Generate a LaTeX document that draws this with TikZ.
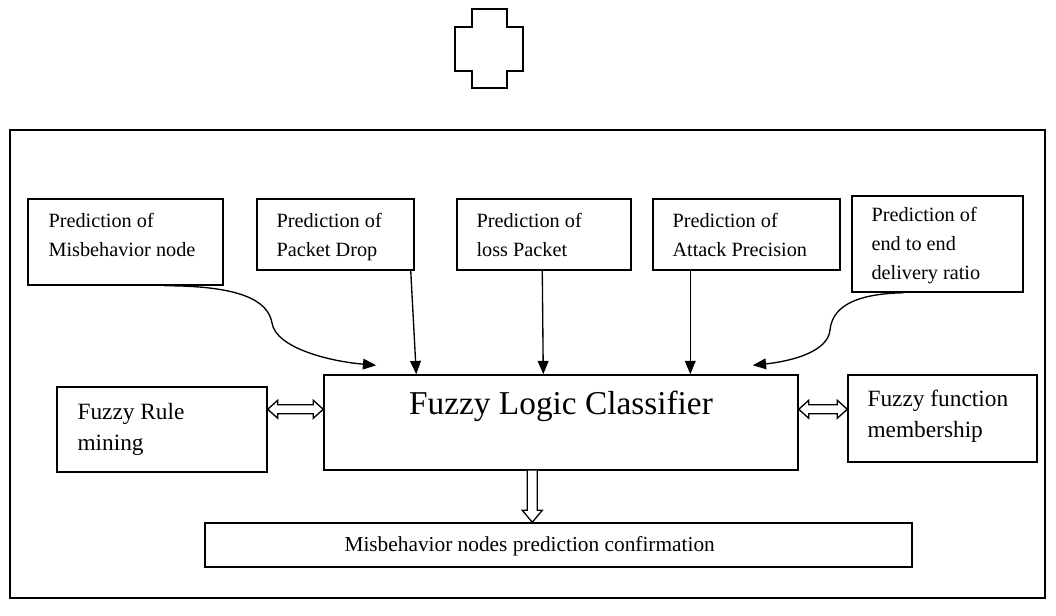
\documentclass[tikz,border=0pt]{standalone}
\usepackage{fontspec}
\setmainfont{Liberation Serif}
\usetikzlibrary{calc,arrows.meta,fit}
\begin{document}
\begin{tikzpicture}[x=0.75pt,y=-0.75pt,
  box/.style={draw,line width=1.1pt,rectangle,inner sep=0pt},
  lbl/.style={anchor=base west,align=left,inner sep=0pt,font=\fontsize{15.2}{21.75}\selectfont},
  mid/.style={anchor=base west,align=left,inner sep=0pt,font=\fontsize{17.5}{23}\selectfont},
  conn/.style={line width=1pt,-{Triangle[length=10pt,width=8pt]}},
  hollow/.style={draw,line width=1pt,fill=white,line join=miter}]
\useasboundingbox (0,0) rectangle (1056,615);

% top cross
\draw[line width=1.2pt] (472,9) -- (507,9) -- (507,27) -- (523,27) -- (523,71) -- (507,71)
  -- (507,88) -- (472,88) -- (472,71) -- (455,71) -- (455,27) -- (472,27) -- cycle;

% frame
\node[box,line width=0.9pt,fit={(10,130)(1045,598)}] (frame) {};

% prediction boxes
\node[box,fit={(28,199)(223,285)}] (b1) {};
\node[box,fit={(257,199)(414,270)}] (b2) {};
\node[box,fit={(457,199)(631,270)}] (b3) {};
\node[box,fit={(653,199)(840,270)}] (b4) {};
\node[box,fit={(852,196)(1023,292)}] (b5) {};

\node[lbl] (t1) at ($(b1.north west)+(21,58)$) {Prediction of\\Misbehavior node};
\node[lbl] (t2) at ($(b2.north west)+(20,58)$) {Prediction of\\Packet Drop};
\node[lbl] (t3) at ($(b3.north west)+(20,58)$) {Prediction of\\loss Packet};
\node[lbl] (t4) at ($(b4.north west)+(20,58)$) {Prediction of\\Attack Precision};
\node[lbl] (t5) at ($(b5.north west)+(20,84)$) {Prediction of\\end to end\\delivery ratio};

% middle row
\node[box,fit={(324,375)(798,470)}] (flc) {};
\node[anchor=base,inner sep=0pt,font=\fontsize{25}{29}\selectfont] (flct) at ($(flc.north)+(0,40)$) {Fuzzy Logic Classifier};

\node[box,fit={(57,387)(267,472)}] (rule) {};
\node[mid] (rulet) at ($(rule.north west)+(21,64)$) {Fuzzy Rule\\mining};

\node[box,fit={(848,375)(1037,462)}] (ffm) {};
\node[mid] (ffmt) at ($(ffm.north west)+(20,63)$) {Fuzzy function\\membership};

% bottom box
\node[box,fit={(205,523)(912,567)}] (bot) {};
\node[anchor=base west,inner sep=0pt,font=\fontsize{16}{19}\selectfont] (bott) at ($(bot.north west)+(140,29)$) {Misbehavior nodes prediction confirmation};

% connectors
\draw[conn] ($(b1.south west)+(137,0)$) .. controls +(75,0) and +(-4,-23) .. (272,323)
  .. controls +(4,25) and +(-47,-4) .. ($(flc.north west)+(53,-9)$);
\draw[conn] ($(b2.south east)+(-4,0)$) -- ($(flc.north west)+(93,0)$);
\draw[conn] ($(b3.south west)+(86,0)$) -- ($(flc.north west)+(220,0)$);
\draw[conn] ($(b4.south west)+(38,0)$) -- ($(flc.north west)+(367,0)$);
\draw[conn] ($(b5.south west)+(53,0)$) .. controls +(-55,1) and +(2,-20) .. (830,330)
  .. controls +(-2,22) and +(38,-4) .. ($(flc.north east)+(-46,-9)$);

% hollow double arrows
\coordinate (la1) at ($(rule.north east)+(0,23)$);
\coordinate (la2) at (la1 -| flc.west);
\draw[hollow] (la1) -- ++(10,-9) -- ++(0,4.5) -- ($(la2)+(-10,-4.5)$) -- ++(0,-4.5) -- (la2)
  -- ++(-10,9) -- ++(0,-4.5) -- ($(la1)+(10,4.5)$) -- ++(0,4.5) -- cycle;
\coordinate (ra1) at ($(flc.north east)+(0,35)$);
\coordinate (ra2) at (ra1 -| ffm.west);
\draw[hollow] (ra1) -- ++(10,-9) -- ++(0,4.5) -- ($(ra2)+(-10,-4.5)$) -- ++(0,-4.5) -- (ra2)
  -- ++(-10,9) -- ++(0,-4.5) -- ($(ra1)+(10,4.5)$) -- ++(0,4.5) -- cycle;

% hollow down arrow
\coordinate (da1) at ($(flc.south west)+(209,0)$);
\coordinate (da2) at (da1 |- bot.north);
\draw[hollow] ($(da1)+(-5,0)$) -- ($(da2)+(-5,-12)$) -- ++(-5,0) -- (da2) -- ++(10,-12)
  -- ++(-5,0) -- ($(da1)+(5,0)$);
\end{tikzpicture}
\end{document}
